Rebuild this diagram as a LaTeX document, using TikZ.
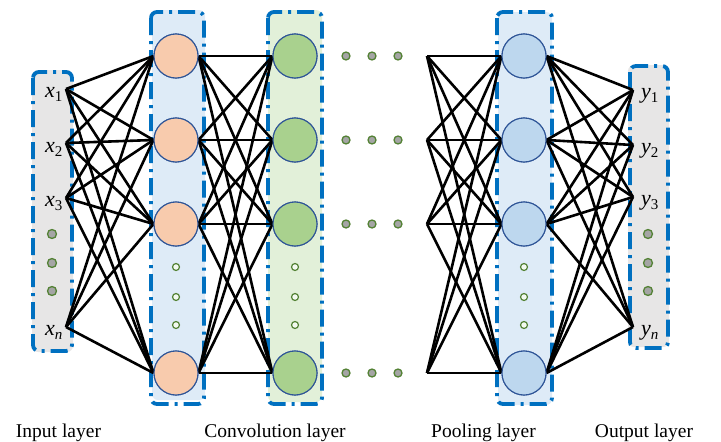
\documentclass[tikz,border=0pt]{standalone}
\usepackage{fontspec}
\setmainfont{Liberation Serif}
\definecolor{bblue}{HTML}{0070C0}
\definecolor{bggray}{HTML}{E7E6E6}
\definecolor{bgblue}{HTML}{DEEBF7}
\definecolor{bggreen}{HTML}{E2F0D9}
\definecolor{corange}{HTML}{F8CBAD}
\definecolor{cgreen}{HTML}{A9D18E}
\definecolor{cblue}{HTML}{BDD7EE}
\definecolor{cedge}{HTML}{2F5597}
\definecolor{dotgreen}{HTML}{548235}
\definecolor{dotgray}{HTML}{A5A5A5}
\tikzset{
  bgbox/.style={rounded corners=6pt},
  bluebord/.style={draw=bblue, line width=3.8pt, rounded corners=6pt,
    dash pattern=on 17pt off 6pt on 3pt off 6pt},
  neuron/.style={circle, draw=cedge, line width=1.1pt, minimum size=44pt, inner sep=0pt},
  conn/.style={black, line width=2.6pt},
  gdot/.style={circle, draw=dotgreen, fill=dotgray, line width=1.3pt, minimum size=8pt, inner sep=0pt},
  wdot/.style={circle, draw=dotgreen, fill=bggreen!40!white, line width=1.2pt, minimum size=7pt, inner sep=0pt},
  lab/.style={font=\fontsize{22}{26}\selectfont, inner sep=0pt, anchor=base west},
  layerlab/.style={font=\fontsize{19.5}{23}\selectfont, inner sep=0pt, anchor=base}
}
\newcommand{\vsub}[2]{\textit{#1}\raisebox{-0.45ex}{\fontsize{15}{15}\selectfont #2}}
\begin{document}
\begin{tikzpicture}[x=1pt,y=-1pt]
\useasboundingbox (0,0) rectangle (721,442);
% backgrounds
\fill[bggray, bgbox] (32,70) rectangle (73,352);
\fill[bgblue, bgbox] (152,10) rectangle (205,400);
\fill[bggreen, bgbox] (268,10) rectangle (322,402);
\fill[bgblue, bgbox] (498,12) rectangle (552,405);
\fill[bggray, bgbox] (628,65) rectangle (669,347);
% borders
\draw[bluebord] (33,72) rectangle (72,351);
\draw[bluebord] (151,12) rectangle (204,404);
\draw[bluebord] (268,12) rectangle (322,404);
\draw[bluebord] (497,12) rectangle (552,404);
\draw[bluebord] (630,66) rectangle (668,348);
% endpoints
\coordinate (i1) at (66,89);
\coordinate (i2) at (66,143);
\coordinate (i3) at (66,198);
\coordinate (i4) at (66,327);
\coordinate (o1) at (633,90);
\coordinate (o2) at (633,145);
\coordinate (o3) at (633,197);
\coordinate (o4) at (633,327);
\coordinate (j1) at (427,56);
\coordinate (j2) at (427,140);
\coordinate (j3) at (427,224);
\coordinate (j4) at (427,373);
% neurons
\foreach \k/\yy in {1/56,2/140,3/224,4/373}{
  \node[neuron, fill=corange] (c\k) at (176,\yy) {};
  \node[neuron, fill=cgreen] (g\k) at (295,\yy) {};
  \node[neuron, fill=cblue] (p\k) at (524,\yy) {};
}
% connections
\foreach \a in {1,2,3,4}{
  \foreach \b in {1,2,3,4}{
    \draw[conn] (i\a) -- (c\b.west);
    \draw[conn] (c\a.east) -- (g\b.west);
    \draw[conn] (j\a) -- (p\b.west);
    \draw[conn] (p\a.east) -- (o\b);
  }
}
% redraw neurons on top
\foreach \k/\yy in {1/56,2/140,3/224,4/373}{
  \node[neuron, fill=corange] at (176,\yy) {};
  \node[neuron, fill=cgreen] at (295,\yy) {};
  \node[neuron, fill=cblue] at (524,\yy) {};
}
% dots
\foreach \k/\yy in {1/234,2/263,3/291}{
  \node[gdot, minimum size=9pt] (di\k) at (52,\yy) {};
  \node[gdot, minimum size=9pt] (do\k) at (648,\yy) {};
}
\foreach \k/\yy in {1/267,2/297,3/325}{
  \node[wdot] (dc\k) at (176,\yy) {};
  \node[wdot] (dg\k) at (295,\yy) {};
  \node[wdot] (dp\k) at (524,\yy) {};
}
\foreach \r/\yy in {1/56,2/140,3/224,4/373}{
  \foreach \c/\xx in {1/346,2/372,3/398}{
    \node[gdot] (m\r\c) at (\xx,\yy) {};
  }
}
% labels
\node[lab] (lx1) at (45,97) {\vsub{x}{1}};
\node[lab] (lx2) at (45,152) {\vsub{x}{2}};
\node[lab] (lx3) at (45,206) {\vsub{x}{3}};
\node[lab] (lxn) at (45,335) {\vsub{x}{\textit{n}}};
\node[lab] (ly1) at (641,98) {\vsub{y}{1}};
\node[lab] (ly2) at (641,153) {\vsub{y}{2}};
\node[lab] (ly3) at (641,205) {\vsub{y}{3}};
\node[lab] (lyn) at (641,335) {\vsub{y}{\textit{n}}};
% layer labels
\node[layerlab] (t1) at (58.5,437) {Input layer};
\node[layerlab] (t2) at (275,437) {Convolution layer};
\node[layerlab] (t3) at (483.5,437) {Pooling layer};
\node[layerlab] (t4) at (644,437) {Output layer};
\end{tikzpicture}
\end{document}
